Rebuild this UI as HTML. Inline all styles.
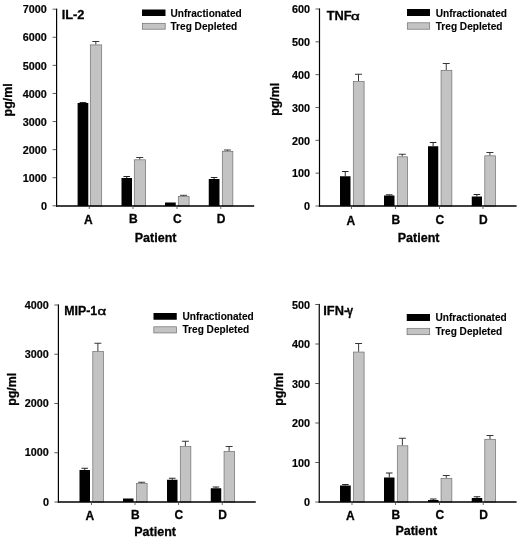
<!DOCTYPE html>
<html><head><meta charset="utf-8"><title>Cytokine charts</title>
<style>html,body{margin:0;padding:0;background:#fff}body{width:520px;height:539px;overflow:hidden}text{stroke:#000;stroke-width:.3px}text.lg{stroke-width:.12px}text.tk{stroke-width:.2px}</style>
</head><body>
<svg width="520" height="539" viewBox="0 0 520 539" style="display:block">
<rect width="520" height="539" fill="#fff"/>
<g font-family='"Liberation Sans", sans-serif' font-weight="bold" fill="#000" opacity="0.999">
<!-- panel TL -->
<path d="M82.95 103.00V102.50M79.65 102.50H86.25" stroke="#111" stroke-width="0.9" fill="none"/>
<path d="M95.80 44.60V41.50M92.30 41.50H99.30" stroke="#222" stroke-width="0.9" fill="none"/>
<rect x="77.60" y="103.00" width="10.70" height="103.00" fill="#000"/>
<rect x="90.30" y="44.90" width="11.40" height="161.10" fill="#c3c3c3" stroke="#6e6e6e" stroke-width="0.7"/>
<path d="M126.75 178.00V176.50M123.45 176.50H130.05" stroke="#111" stroke-width="0.9" fill="none"/>
<path d="M139.75 159.50V157.50M136.25 157.50H143.25" stroke="#222" stroke-width="0.9" fill="none"/>
<rect x="121.50" y="178.00" width="10.50" height="28.00" fill="#000"/>
<rect x="134.30" y="159.80" width="11.30" height="46.20" fill="#c3c3c3" stroke="#6e6e6e" stroke-width="0.7"/>
<path d="M183.50 196.00V195.30M180.00 195.30H187.00" stroke="#222" stroke-width="0.9" fill="none"/>
<rect x="165.00" y="202.50" width="10.75" height="3.50" fill="#000"/>
<rect x="178.30" y="196.30" width="10.80" height="9.70" fill="#c3c3c3" stroke="#6e6e6e" stroke-width="0.7"/>
<path d="M214.12 179.00V177.50M210.82 177.50H217.43" stroke="#111" stroke-width="0.9" fill="none"/>
<path d="M227.38 151.00V150.00M223.88 150.00H230.88" stroke="#222" stroke-width="0.9" fill="none"/>
<rect x="208.75" y="179.00" width="10.75" height="27.00" fill="#000"/>
<rect x="222.30" y="151.30" width="10.55" height="54.70" fill="#c3c3c3" stroke="#6e6e6e" stroke-width="0.7"/>
<rect x="56.00" y="8.60" width="1.2" height="198.10" fill="#000"/>
<rect x="56.00" y="205.25" width="198.25" height="1.5" fill="#000"/>
<path d="M52.60 205.80H56.60" stroke="#333" stroke-width="0.8"/>
<text x="46.9"  y="210.00" font-size="10.8" text-anchor="end" class="tk">0</text>
<path d="M52.60 177.71H56.60" stroke="#333" stroke-width="0.8"/>
<text x="46.9"  y="181.91" font-size="10.8" text-anchor="end" class="tk">1000</text>
<path d="M52.60 149.63H56.60" stroke="#333" stroke-width="0.8"/>
<text x="46.9"  y="153.83" font-size="10.8" text-anchor="end" class="tk">2000</text>
<path d="M52.60 121.54H56.60" stroke="#333" stroke-width="0.8"/>
<text x="46.9"  y="125.74" font-size="10.8" text-anchor="end" class="tk">3000</text>
<path d="M52.60 93.46H56.60" stroke="#333" stroke-width="0.8"/>
<text x="46.9"  y="97.66" font-size="10.8" text-anchor="end" class="tk">4000</text>
<path d="M52.60 65.37H56.60" stroke="#333" stroke-width="0.8"/>
<text x="46.9"  y="69.57" font-size="10.8" text-anchor="end" class="tk">5000</text>
<path d="M52.60 37.29H56.60" stroke="#333" stroke-width="0.8"/>
<text x="46.9"  y="41.49" font-size="10.8" text-anchor="end" class="tk">6000</text>
<path d="M52.60 9.20H56.60" stroke="#333" stroke-width="0.8"/>
<text x="46.9"  y="13.40" font-size="10.8" text-anchor="end" class="tk">7000</text>
<path d="M89.25 206.00V209.00" stroke="#444" stroke-width="0.8"/>
<text x="88.25" y="223.5" font-size="12" text-anchor="middle">A</text>
<path d="M133.00 206.00V209.00" stroke="#444" stroke-width="0.8"/>
<text x="133.30" y="223" font-size="12" text-anchor="middle">B</text>
<path d="M177.00 206.00V209.00" stroke="#444" stroke-width="0.8"/>
<text x="177.30" y="223" font-size="12" text-anchor="middle">C</text>
<path d="M220.75 206.00V209.00" stroke="#444" stroke-width="0.8"/>
<text x="221.05" y="223" font-size="12" text-anchor="middle">D</text>
<text x="61.7" y="19.3" font-size="12.8">IL-2</text>
<rect x="142" y="9.5" width="23.5" height="6.5" fill="#000"/>
<rect x="142.3" y="23.3" width="22.9" height="5.9" fill="#c3c3c3" stroke="#6e6e6e" stroke-width="0.7"/>
<text x="170.5" y="16.6" font-size="10.1" class="lg">Unfractionated</text>
<text x="170.5" y="30.0" font-size="10.1" class="lg">Treg Depleted</text>
<text x="155.6" y="242" font-size="12.5" text-anchor="middle">Patient</text>
<text transform="translate(11.7 99.9) rotate(-90)" font-size="12.4" text-anchor="middle">pg/ml</text>
<!-- panel TR -->
<path d="M345.25 176.25V171.50M341.95 171.50H348.55" stroke="#111" stroke-width="0.9" fill="none"/>
<path d="M358.50 81.25V74.25M355.00 74.25H362.00" stroke="#222" stroke-width="0.9" fill="none"/>
<rect x="340.00" y="176.25" width="10.50" height="29.75" fill="#000"/>
<rect x="353.30" y="81.55" width="10.80" height="124.45" fill="#c3c3c3" stroke="#6e6e6e" stroke-width="0.7"/>
<path d="M389.25 195.50V194.80M385.95 194.80H392.55" stroke="#111" stroke-width="0.9" fill="none"/>
<path d="M402.25 156.50V154.25M398.75 154.25H405.75" stroke="#222" stroke-width="0.9" fill="none"/>
<rect x="384.00" y="195.50" width="10.50" height="10.50" fill="#000"/>
<rect x="397.30" y="156.80" width="10.30" height="49.20" fill="#c3c3c3" stroke="#6e6e6e" stroke-width="0.7"/>
<path d="M433.12 146.25V142.50M429.82 142.50H436.43" stroke="#111" stroke-width="0.9" fill="none"/>
<path d="M446.25 70.00V63.50M442.75 63.50H449.75" stroke="#222" stroke-width="0.9" fill="none"/>
<rect x="428.00" y="146.25" width="10.25" height="59.75" fill="#000"/>
<rect x="441.05" y="70.30" width="10.80" height="135.70" fill="#c3c3c3" stroke="#6e6e6e" stroke-width="0.7"/>
<path d="M476.88 196.50V194.50M473.57 194.50H480.18" stroke="#111" stroke-width="0.9" fill="none"/>
<path d="M489.88 155.50V152.50M486.38 152.50H493.38" stroke="#222" stroke-width="0.9" fill="none"/>
<rect x="471.75" y="196.50" width="10.25" height="9.50" fill="#000"/>
<rect x="484.80" y="155.80" width="10.55" height="50.20" fill="#c3c3c3" stroke="#6e6e6e" stroke-width="0.7"/>
<rect x="318.90" y="8.40" width="1.2" height="198.30" fill="#000"/>
<rect x="318.90" y="205.25" width="197.70" height="1.5" fill="#000"/>
<path d="M315.50 206.00H319.50" stroke="#333" stroke-width="0.8"/>
<text x="310.0"  y="210.20" font-size="10.8" text-anchor="end" class="tk">0</text>
<path d="M315.50 173.17H319.50" stroke="#333" stroke-width="0.8"/>
<text x="310.0"  y="177.37" font-size="10.8" text-anchor="end" class="tk">100</text>
<path d="M315.50 140.33H319.50" stroke="#333" stroke-width="0.8"/>
<text x="310.0"  y="144.53" font-size="10.8" text-anchor="end" class="tk">200</text>
<path d="M315.50 107.50H319.50" stroke="#333" stroke-width="0.8"/>
<text x="310.0"  y="111.70" font-size="10.8" text-anchor="end" class="tk">300</text>
<path d="M315.50 74.67H319.50" stroke="#333" stroke-width="0.8"/>
<text x="310.0"  y="78.87" font-size="10.8" text-anchor="end" class="tk">400</text>
<path d="M315.50 41.83H319.50" stroke="#333" stroke-width="0.8"/>
<text x="310.0"  y="46.03" font-size="10.8" text-anchor="end" class="tk">500</text>
<path d="M315.50 9.00H319.50" stroke="#333" stroke-width="0.8"/>
<text x="310.0"  y="13.20" font-size="10.8" text-anchor="end" class="tk">600</text>
<path d="M351.50 206.00V209.00" stroke="#444" stroke-width="0.8"/>
<text x="350.80" y="224.5" font-size="12" text-anchor="middle">A</text>
<path d="M395.50 206.00V209.00" stroke="#444" stroke-width="0.8"/>
<text x="395.80" y="223.5" font-size="12" text-anchor="middle">B</text>
<path d="M439.50 206.00V209.00" stroke="#444" stroke-width="0.8"/>
<text x="439.80" y="223.5" font-size="12" text-anchor="middle">C</text>
<path d="M483.00 206.00V209.00" stroke="#444" stroke-width="0.8"/>
<text x="483.30" y="223.5" font-size="12" text-anchor="middle">D</text>
<text x="326.8" y="20.0" font-size="12.8">TNF</text>
<text transform="translate(350.9 20) scale(1.3 1)" font-size="11.6" font-weight="normal" style="stroke-width:.45px">α</text>
<rect x="407" y="9" width="23" height="7" fill="#000"/>
<rect x="407.3" y="22.8" width="22.4" height="6.4" fill="#c3c3c3" stroke="#6e6e6e" stroke-width="0.7"/>
<text x="435.75" y="16.5" font-size="10.1" class="lg">Unfractionated</text>
<text x="435.75" y="29.5" font-size="10.1" class="lg">Treg Depleted</text>
<text x="418.6" y="241.5" font-size="12.5" text-anchor="middle">Patient</text>
<text transform="translate(279.1 99.3) rotate(-90)" font-size="12.4" text-anchor="middle">pg/ml</text>
<!-- panel BL -->
<path d="M84.75 470.00V468.25M81.45 468.25H88.05" stroke="#111" stroke-width="0.9" fill="none"/>
<path d="M97.88 351.25V343.25M94.38 343.25H101.38" stroke="#222" stroke-width="0.9" fill="none"/>
<rect x="79.50" y="470.00" width="10.50" height="32.00" fill="#000"/>
<rect x="92.80" y="351.55" width="10.55" height="150.45" fill="#c3c3c3" stroke="#6e6e6e" stroke-width="0.7"/>
<path d="M141.62 483.25V482.25M138.12 482.25H145.12" stroke="#222" stroke-width="0.9" fill="none"/>
<rect x="123.00" y="498.50" width="10.50" height="3.50" fill="#000"/>
<rect x="136.55" y="483.55" width="10.55" height="18.45" fill="#c3c3c3" stroke="#6e6e6e" stroke-width="0.7"/>
<path d="M172.25 479.75V478.25M168.95 478.25H175.55" stroke="#111" stroke-width="0.9" fill="none"/>
<path d="M185.38 446.25V441.25M181.88 441.25H188.88" stroke="#222" stroke-width="0.9" fill="none"/>
<rect x="167.00" y="479.75" width="10.50" height="22.25" fill="#000"/>
<rect x="180.30" y="446.55" width="10.55" height="55.45" fill="#c3c3c3" stroke="#6e6e6e" stroke-width="0.7"/>
<path d="M216.00 488.25V487.00M212.70 487.00H219.30" stroke="#111" stroke-width="0.9" fill="none"/>
<path d="M229.12 451.25V446.50M225.62 446.50H232.62" stroke="#222" stroke-width="0.9" fill="none"/>
<rect x="210.75" y="488.25" width="10.50" height="13.75" fill="#000"/>
<rect x="224.05" y="451.55" width="10.55" height="50.45" fill="#c3c3c3" stroke="#6e6e6e" stroke-width="0.7"/>
<rect x="57.80" y="304.40" width="1.2" height="198.30" fill="#000"/>
<rect x="57.80" y="501.25" width="197.95" height="1.5" fill="#000"/>
<path d="M54.40 502.00H58.40" stroke="#333" stroke-width="0.8"/>
<text x="48.9"  y="505.60" font-size="10.8" text-anchor="end" class="tk">0</text>
<path d="M54.40 452.75H58.40" stroke="#333" stroke-width="0.8"/>
<text x="48.9"  y="456.35" font-size="10.8" text-anchor="end" class="tk">1000</text>
<path d="M54.40 403.50H58.40" stroke="#333" stroke-width="0.8"/>
<text x="48.9"  y="407.10" font-size="10.8" text-anchor="end" class="tk">2000</text>
<path d="M54.40 354.25H58.40" stroke="#333" stroke-width="0.8"/>
<text x="48.9"  y="357.85" font-size="10.8" text-anchor="end" class="tk">3000</text>
<path d="M54.40 305.00H58.40" stroke="#333" stroke-width="0.8"/>
<text x="48.9"  y="308.60" font-size="10.8" text-anchor="end" class="tk">4000</text>
<path d="M91.50 502.00V505.00" stroke="#444" stroke-width="0.8"/>
<text x="89.80" y="519.9" font-size="12" text-anchor="middle">A</text>
<path d="M135.00 502.00V505.00" stroke="#444" stroke-width="0.8"/>
<text x="135.30" y="518.7" font-size="12" text-anchor="middle">B</text>
<path d="M178.50 502.00V505.00" stroke="#444" stroke-width="0.8"/>
<text x="178.80" y="518.7" font-size="12" text-anchor="middle">C</text>
<path d="M222.25 502.00V505.00" stroke="#444" stroke-width="0.8"/>
<text x="222.55" y="518.7" font-size="12" text-anchor="middle">D</text>
<text x="64.2" y="315.0" font-size="12.4">MIP-1</text>
<text transform="translate(97.5 315) scale(1.3 1)" font-size="11.6" font-weight="normal" style="stroke-width:.45px">α</text>
<rect x="153.5" y="313" width="23.25" height="6.75" fill="#000"/>
<rect x="153.8" y="326.8" width="22.65" height="6.15" fill="#c3c3c3" stroke="#6e6e6e" stroke-width="0.7"/>
<text x="182.5" y="320.4" font-size="10.1" class="lg">Unfractionated</text>
<text x="182.5" y="333.4" font-size="10.1" class="lg">Treg Depleted</text>
<text x="155.1" y="536" font-size="12.5" text-anchor="middle">Patient</text>
<text transform="translate(16.3 389.3) rotate(-90)" font-size="12.4" text-anchor="middle">pg/ml</text>
<!-- panel BR -->
<path d="M345.38 485.50V484.50M342.07 484.50H348.68" stroke="#111" stroke-width="0.9" fill="none"/>
<path d="M358.62 351.75V343.50M355.12 343.50H362.12" stroke="#222" stroke-width="0.9" fill="none"/>
<rect x="340.00" y="485.50" width="10.75" height="16.50" fill="#000"/>
<rect x="353.55" y="352.05" width="10.55" height="149.95" fill="#c3c3c3" stroke="#6e6e6e" stroke-width="0.7"/>
<path d="M389.25 477.50V473.00M385.95 473.00H392.55" stroke="#111" stroke-width="0.9" fill="none"/>
<path d="M402.38 445.50V438.25M398.88 438.25H405.88" stroke="#222" stroke-width="0.9" fill="none"/>
<rect x="384.00" y="477.50" width="10.50" height="24.50" fill="#000"/>
<rect x="397.30" y="445.80" width="10.55" height="56.20" fill="#c3c3c3" stroke="#6e6e6e" stroke-width="0.7"/>
<path d="M433.25 500.00V499.00M429.95 499.00H436.55" stroke="#111" stroke-width="0.9" fill="none"/>
<path d="M446.25 478.00V475.50M442.75 475.50H449.75" stroke="#222" stroke-width="0.9" fill="none"/>
<rect x="428.00" y="500.00" width="10.50" height="2.00" fill="#000"/>
<rect x="441.05" y="478.30" width="10.80" height="23.70" fill="#c3c3c3" stroke="#6e6e6e" stroke-width="0.7"/>
<path d="M477.00 498.00V496.75M473.70 496.75H480.30" stroke="#111" stroke-width="0.9" fill="none"/>
<path d="M490.00 439.00V435.50M486.50 435.50H493.50" stroke="#222" stroke-width="0.9" fill="none"/>
<rect x="471.75" y="498.00" width="10.50" height="4.00" fill="#000"/>
<rect x="484.80" y="439.30" width="10.80" height="62.70" fill="#c3c3c3" stroke="#6e6e6e" stroke-width="0.7"/>
<rect x="318.65" y="303.90" width="1.2" height="198.80" fill="#000"/>
<rect x="318.65" y="501.25" width="197.95" height="1.5" fill="#000"/>
<path d="M315.25 502.00H319.25" stroke="#333" stroke-width="0.8"/>
<text x="309.9"  y="506.30" font-size="10.8" text-anchor="end" class="tk">0</text>
<path d="M315.25 462.50H319.25" stroke="#333" stroke-width="0.8"/>
<text x="309.9"  y="466.80" font-size="10.8" text-anchor="end" class="tk">100</text>
<path d="M315.25 423.00H319.25" stroke="#333" stroke-width="0.8"/>
<text x="309.9"  y="427.30" font-size="10.8" text-anchor="end" class="tk">200</text>
<path d="M315.25 383.50H319.25" stroke="#333" stroke-width="0.8"/>
<text x="309.9"  y="387.80" font-size="10.8" text-anchor="end" class="tk">300</text>
<path d="M315.25 344.00H319.25" stroke="#333" stroke-width="0.8"/>
<text x="309.9"  y="348.30" font-size="10.8" text-anchor="end" class="tk">400</text>
<path d="M315.25 304.50H319.25" stroke="#333" stroke-width="0.8"/>
<text x="309.9"  y="308.80" font-size="10.8" text-anchor="end" class="tk">500</text>
<path d="M352.00 502.00V505.00" stroke="#444" stroke-width="0.8"/>
<text x="350.40" y="519.7" font-size="12" text-anchor="middle">A</text>
<path d="M395.50 502.00V505.00" stroke="#444" stroke-width="0.8"/>
<text x="395.80" y="518.9" font-size="12" text-anchor="middle">B</text>
<path d="M439.50 502.00V505.00" stroke="#444" stroke-width="0.8"/>
<text x="439.80" y="518.9" font-size="12" text-anchor="middle">C</text>
<path d="M483.25 502.00V505.00" stroke="#444" stroke-width="0.8"/>
<text x="483.55" y="518.9" font-size="12" text-anchor="middle">D</text>
<text x="323.3" y="314.5" font-size="12.8">IFN-</text>
<text transform="translate(347.1 314.5) scale(0.86 1)" font-size="12.6">γ</text>
<rect x="406.75" y="314" width="23.25" height="7" fill="#000"/>
<rect x="407.05" y="328.3" width="22.65" height="6.4" fill="#c3c3c3" stroke="#6e6e6e" stroke-width="0.7"/>
<text x="435.5" y="321" font-size="10.1" class="lg">Unfractionated</text>
<text x="435.5" y="334.5" font-size="10.1" class="lg">Treg Depleted</text>
<text x="416.25" y="535" font-size="12.5" text-anchor="middle">Patient</text>
<text transform="translate(282.5 389.2) rotate(-90)" font-size="12.4" text-anchor="middle">pg/ml</text>
</g></svg>
</body></html>
